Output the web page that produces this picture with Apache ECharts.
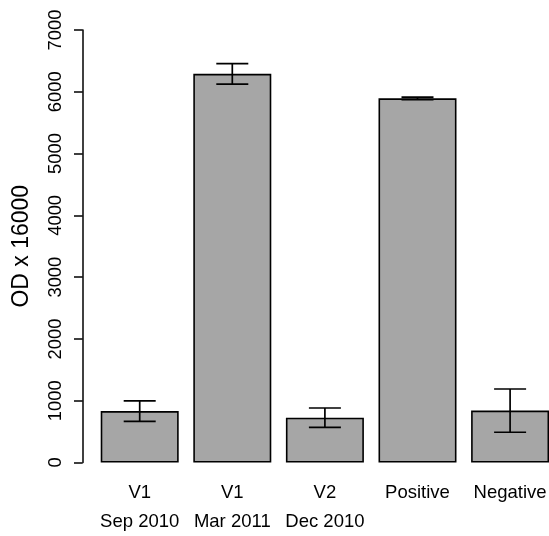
<!DOCTYPE html>
<html>
<head>
<meta charset="utf-8">
<script src="https://cdn.jsdelivr.net/npm/echarts@6/dist/echarts.min.js"></script>
<style>
html,body{margin:0;padding:0;background:#fff;}
#chart{width:549px;height:536px;}
</style>
</head>
<body>
<div id="chart"></div>
<script>
var categories = ['V1\nSep 2010', 'V1\nMar 2011', 'V2\nDec 2010', 'Positive', 'Negative'];
var means = [832, 6290, 726, 5894, 840];
var errors = [165, 166, 156, 20, 350];
var yTicks = [0, 1000, 2000, 3000, 4000, 5000, 6000, 7000];

var errData = means.map(function (m, i) { return [i, m - errors[i], m + errors[i]]; });
var FONT = '"Liberation Sans", Arial, Helvetica, sans-serif';

var chart = echarts.init(document.getElementById('chart'), null, {renderer: 'canvas'});
chart.setOption({
  animation: false,
  backgroundColor: '#ffffff',
  grid: {left: 93.4, top: 30, width: 463, height: 432.5, containLabel: false, outerBoundsMode: 'none'},
  xAxis: {
    type: 'category',
    data: categories,
    axisLine: {show: false},
    axisTick: {show: false},
    axisLabel: {
      color: '#000', fontFamily: FONT, fontSize: 18.5, lineHeight: 29, margin: 16,
      interval: 0
    }
  },
  yAxis: {
    type: 'value',
    min: yTicks[0], max: yTicks[yTicks.length - 1], interval: 1000,
    offset: 10.7,
    name: 'OD x 16000',
    nameLocation: 'middle',
    nameRotate: 90,
    nameGap: 50,
    nameTextStyle: {color: '#000', fontFamily: FONT, fontSize: 23},
    splitLine: {show: false},
    axisLine: {show: true, lineStyle: {color: '#000', width: 1.5}},
    axisTick: {show: true, length: 8.7, lineStyle: {color: '#000', width: 1.5}},
    axisLabel: {
      color: '#000', fontFamily: FONT, fontSize: 18.4, rotate: 90, margin: 18,
      formatter: function (v) { return String(v); }
    }
  },
  series: [
    {
      type: 'bar',
      data: means,
      barWidth: 78,
      itemStyle: {color: '#a6a6a6', borderColor: '#000', borderWidth: 1.6}
    },
    {
      type: 'custom',
      data: errData,
      z: 10,
      renderItem: function (params, api) {
        var x = api.value(0);
        var lo = api.coord([x, api.value(1)]);
        var hi = api.coord([x, api.value(2)]);
        var hw = 16;
        var st = {stroke: '#000', lineWidth: 1.7};
        return {
          type: 'group',
          children: [
            {type: 'line', shape: {x1: lo[0], y1: lo[1], x2: hi[0], y2: hi[1]}, style: st},
            {type: 'line', shape: {x1: lo[0] - hw, y1: lo[1], x2: lo[0] + hw, y2: lo[1]}, style: st},
            {type: 'line', shape: {x1: hi[0] - hw, y1: hi[1], x2: hi[0] + hw, y2: hi[1]}, style: st}
          ]
        };
      }
    }
  ]
});
</script>
</body>
</html>
